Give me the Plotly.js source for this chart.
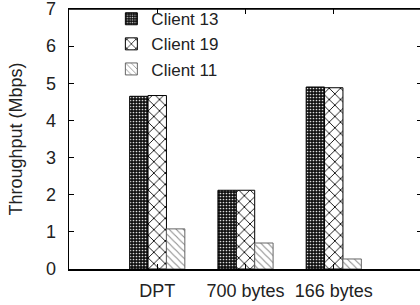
<!DOCTYPE html>
<html><head><meta charset="utf-8">
<script src="https://cdn.plot.ly/plotly-3.0.1.min.js"></script>
<style>html,body{margin:0;padding:0;background:#fff;overflow:hidden;}#c{width:422px;height:305px;}</style>
</head><body><div id="c"></div>
<script>
const categories = ["DPT", "700 bytes", "166 bytes"];
const seriesNames = ["Client 13", "Client 19", "Client 11"];
const client13 = [4.65, 2.12, 4.90];
const client19 = [4.67, 2.12, 4.88];
const client11 = [1.08, 0.70, 0.27];
const yTicks = [0, 1, 2, 3, 4, 5, 6, 7];

const patterns = [
  {shape: ".", bgcolor: "#111", fgcolor: "#ddd", size: 3, solidity: 0.25},
  {shape: "x", bgcolor: "#fff", fgcolor: "#111", size: 8, solidity: 0.22},
  {shape: "\\", bgcolor: "#fff", fgcolor: "#888", size: 5, solidity: 0.2}
];
const vals = [client13, client19, client11];
const traces = vals.map((v, i) => ({
  type: "bar", x: [0, 1, 2], y: v, name: seriesNames[i],
  marker: {color: patterns[i].bgcolor, pattern: patterns[i], line: {color: i === 2 ? "#666" : "#000", width: 1}},
  hoverinfo: "none"
}));

const font = {family: "Liberation Sans, Arial, sans-serif", size: 18, color: "#222"};
const legFont = {family: "Liberation Sans, Arial, sans-serif", size: 17, color: "#222"};
Plotly.newPlot("c", traces, {
  width: 422, height: 305,
  margin: {l: 69, r: 0, t: 9, b: 36},
  paper_bgcolor: "#fff", plot_bgcolor: "#fff",
  font: font,
  barmode: "group", bargap: 0.375, bargroupgap: 0,
  showlegend: true,
  legend: {x: 0.12, y: 1.03, xanchor: "left", yanchor: "top", bgcolor: "rgba(0,0,0,0)",
    font: legFont, itemwidth: 30},
  shapes: [{type: "line", xref: "paper", yref: "paper", x0: 0, x1: 1, y0: 1, y1: 1,
    line: {color: "#000", width: 1.5}, layer: "above"}],
  xaxis: {range: [-1, 3], tickvals: [0, 1, 2], ticktext: categories,
    showline: true, linecolor: "#000", linewidth: 1.5, mirror: "ticks",
    ticks: "inside", ticklen: 5, tickcolor: "#000", showgrid: false, zeroline: false,
    tickfont: font, ticklabelstandoff: 5, fixedrange: true},
  yaxis: {range: [0, 7], tickvals: yTicks,
    showline: true, linecolor: "#000", linewidth: 1.5, mirror: "ticks",
    ticks: "inside", ticklen: 5, tickcolor: "#000", showgrid: false, zeroline: false,
    tickfont: font, ticklabelstandoff: 8, ticklabeloverflow: "allow",
    title: {text: "Throughput (Mbps)", font: font, standoff: 18}, fixedrange: true}
}, {displayModeBar: false, staticPlot: true});
</script></body></html>
